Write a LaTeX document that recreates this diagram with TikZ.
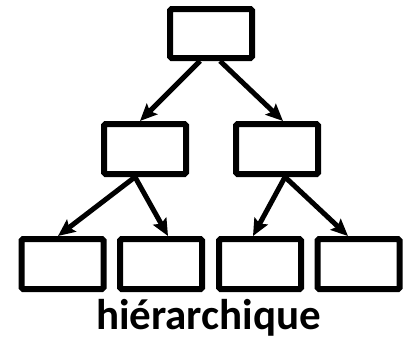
\documentclass[tikz,border=0pt]{standalone}
\usepackage{fontspec}
\setmainfont{Carlito}
\usetikzlibrary{arrows.meta}
\begin{document}
\begin{tikzpicture}[x=1pt,y=-1pt,
  box/.style={draw=black,line width=6pt,rounded corners=1.5pt,minimum width=82pt,minimum height=50pt,inner sep=0pt,fill=white},
  arr/.style={line width=5pt,-{Stealth[length=17pt,width=15pt,inset=3pt]}}]
\useasboundingbox (0,0) rectangle (409,340);
\node[box,minimum height=49pt] (top) at (211,33.5) {};
\node[box] (ml) at (145,149) {};
\node[box] (mr) at (277,149) {};
\node[box] (b1) at (62.5,264) {};
\node[box] (b2) at (161,264) {};
\node[box] (b3) at (260,264) {};
\node[box] (b4) at (358.5,264) {};
\draw[arr] ([xshift=-11pt]top.south) -- ([xshift=-5pt]ml.north);
\draw[arr] ([xshift=9pt]top.south) -- ([xshift=6pt]mr.north);
\draw[arr] ([xshift=-10pt]ml.south) -- ([xshift=-4.5pt]b1.north);
\draw[arr] ([xshift=-10pt]ml.south) -- ([xshift=7pt]b2.north);
\draw[arr] ([xshift=8pt]mr.south) -- ([xshift=-7pt]b3.north);
\draw[arr] ([xshift=8pt]mr.south) -- ([xshift=-10.5pt]b4.north);
\node[anchor=base,inner sep=0pt,font=\bfseries\fontsize{43pt}{46pt}\selectfont] (lbl) at (208.5,329) {hiérarchique};
\end{tikzpicture}
\end{document}
